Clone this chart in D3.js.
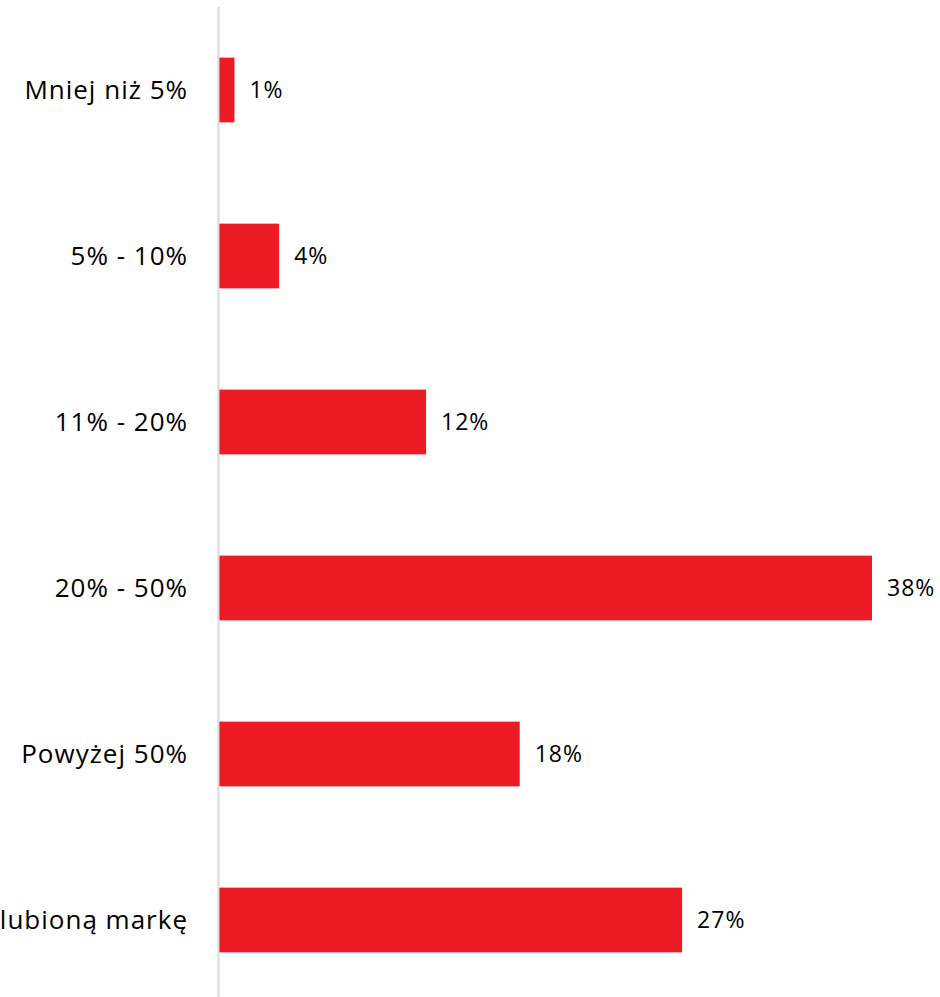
<!DOCTYPE html>
<html><head><meta charset="utf-8">
<script src="https://cdn.jsdelivr.net/npm/d3@7"></script>
<style>html,body{margin:0;padding:0;background:#fff;overflow:hidden}</style>
</head><body>
<svg id="chart" width="940" height="997"></svg>
<script>
const categories = ["Mniej niż 5%", "5% - 10%", "11% - 20%", "20% - 50%", "Powyżej 50%", "Zawsze kupuję ulubioną markę"];
const values = [0.9, 3.5, 12.05, 38, 17.5, 26.95];
const valueLabels = ["1%", "4%", "12%", "38%", "18%", "27%"];

const svg = d3.select("#chart");
const x0 = 219;
const x = d3.scaleLinear().domain([0, 38]).range([x0, 872]);
const y = d3.scaleBand().domain(categories).range([7, 1003]).paddingInner(0.61).paddingOuter(0.305);

svg.selectAll("rect.bar").data(categories).join("rect")
  .attr("class", "bar")
  .attr("x", x(0))
  .attr("y", d => y(d))
  .attr("width", (d, i) => x(values[i]) - x(0))
  .attr("height", y.bandwidth())
  .attr("fill", "#ed1c24");

svg.append("line")
  .attr("x1", x0 - 0.5).attr("x2", x0 - 0.5)
  .attr("y1", 7).attr("y2", 997)
  .attr("stroke", "#d9d9d9").attr("stroke-width", 2);

svg.selectAll("text.cat").data(categories).join("text")
  .attr("class", "cat")
  .attr("x", 188)
  .attr("y", d => y(d) + y.bandwidth() / 2)
  .attr("dy", "0.36em")
  .attr("text-anchor", "end")
  .attr("font-family", "'Open Sans', sans-serif")
  .attr("font-size", 26)
  .attr("letter-spacing", 1)
  .attr("fill", "#000")
  .text(d => d);

svg.selectAll("text.val").data(categories).join("text")
  .attr("class", "val")
  .attr("x", (d, i) => x(values[i]) + 15)
  .attr("y", d => y(d) + y.bandwidth() / 2)
  .attr("dy", "0.36em")
  .attr("font-family", "'Open Sans', sans-serif")
  .attr("font-size", 23)
  .attr("letter-spacing", 1)
  .attr("fill", "#000")
  .text((d, i) => valueLabels[i]);
</script>
</body></html>
